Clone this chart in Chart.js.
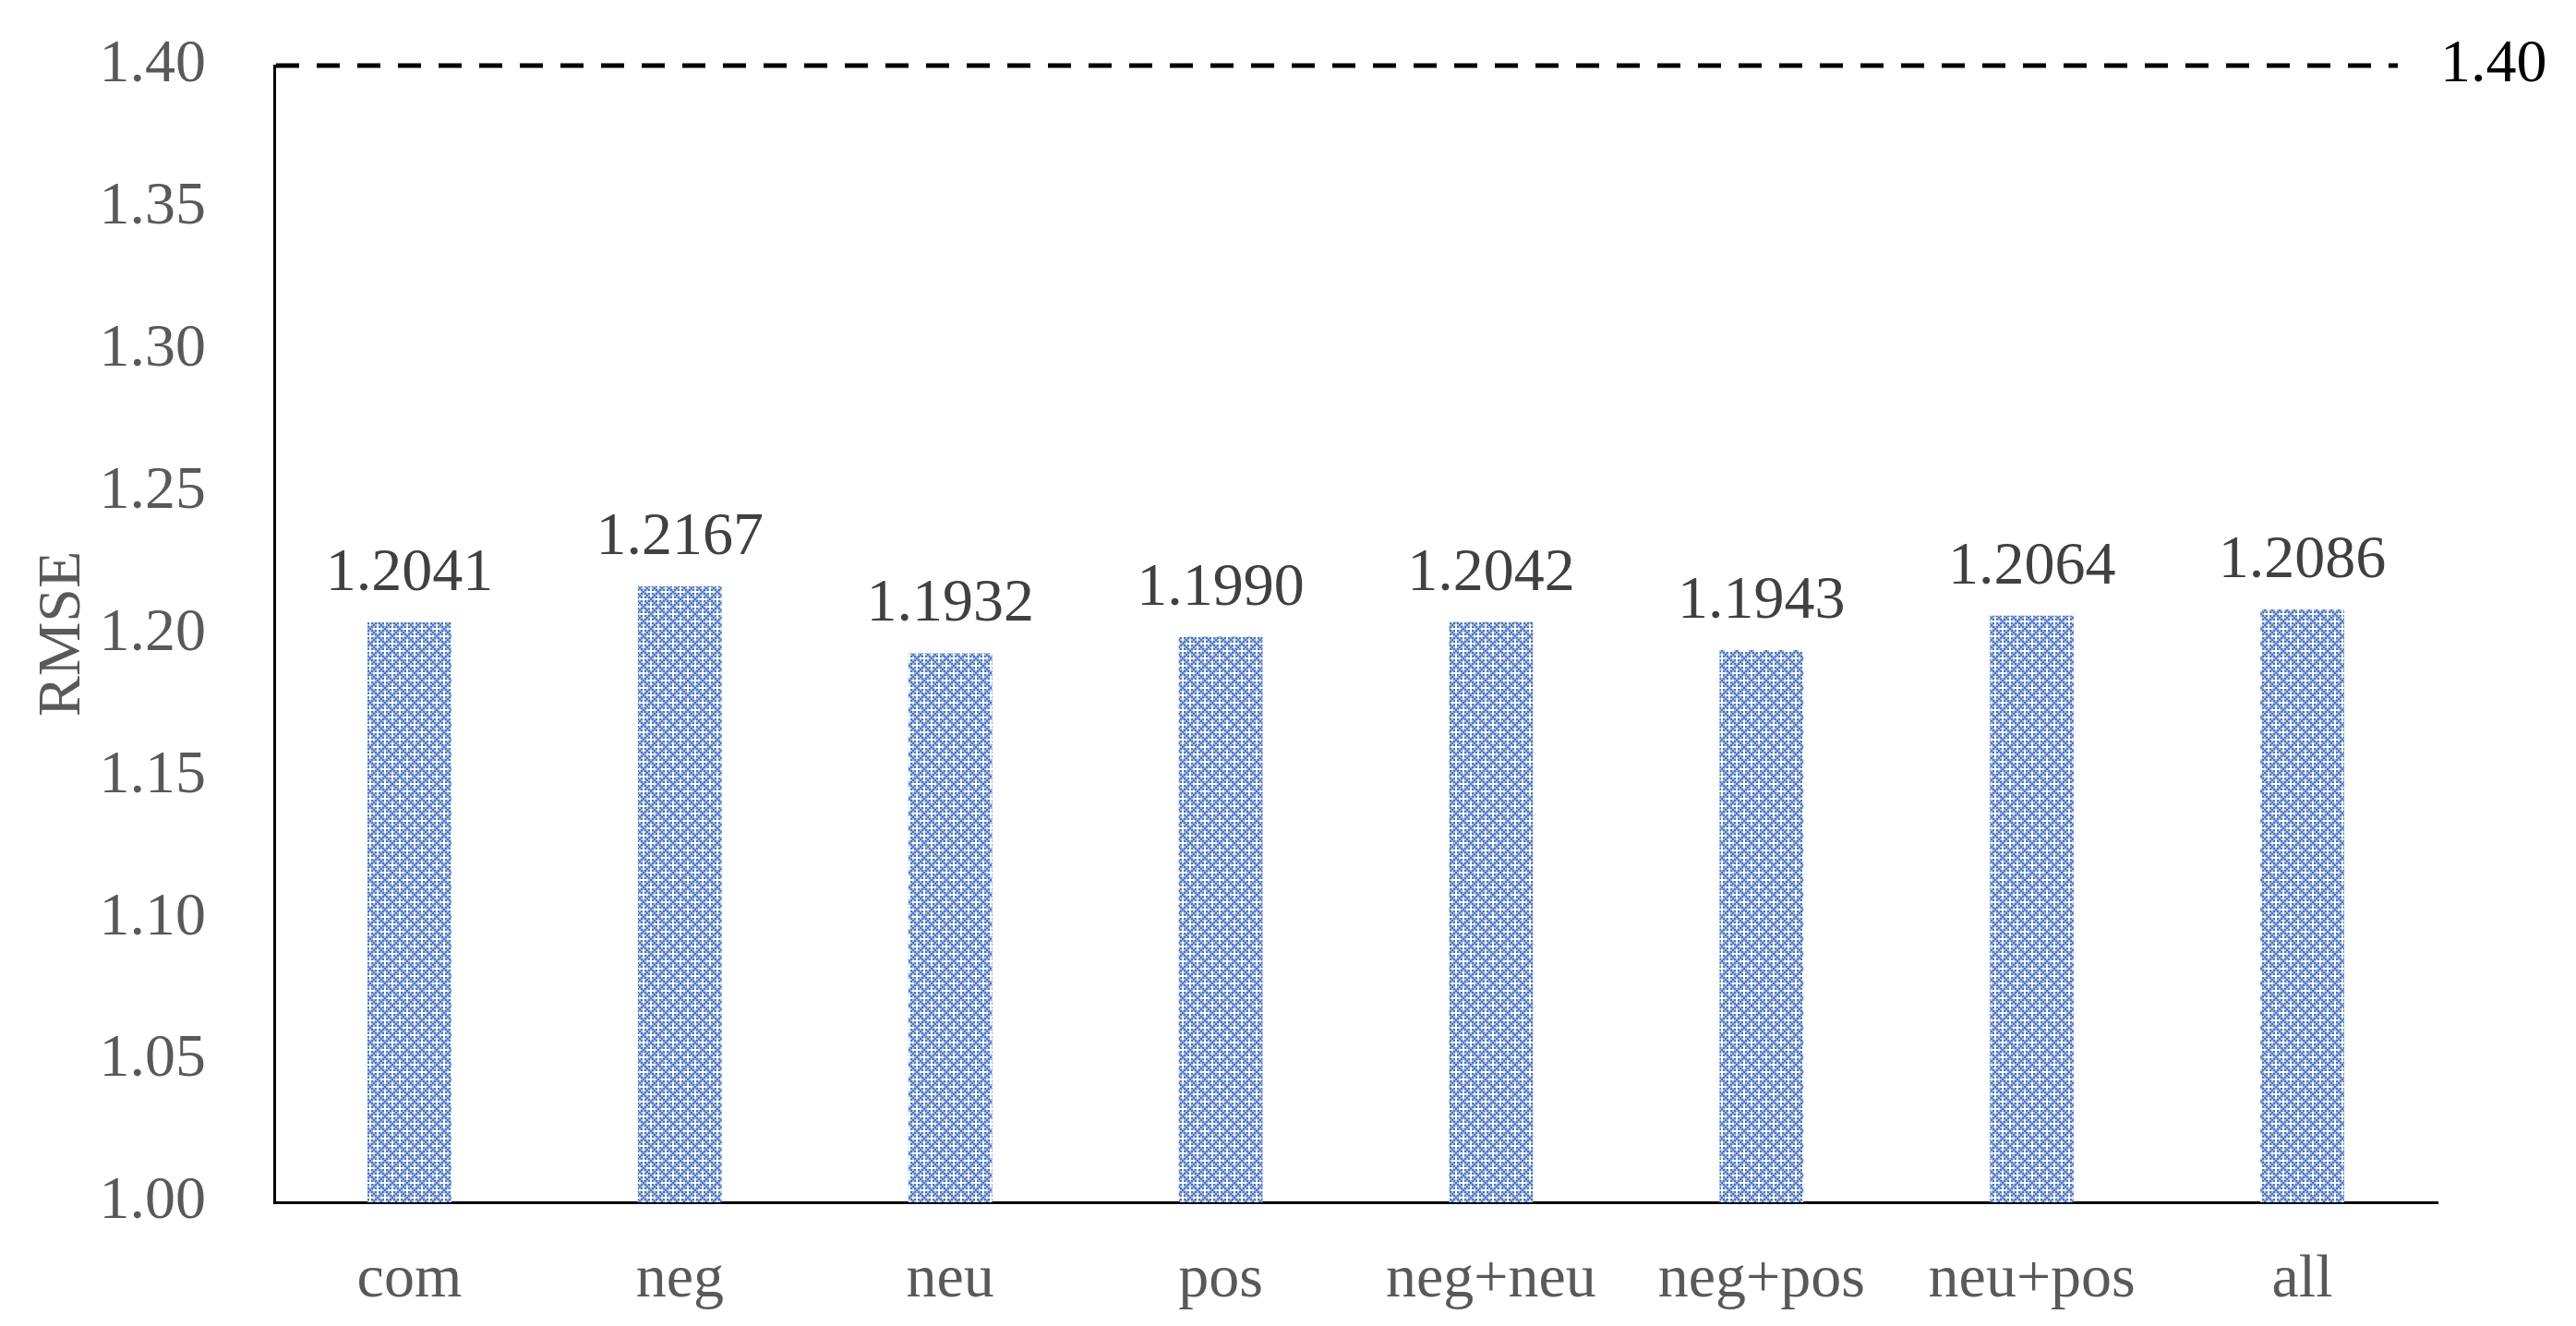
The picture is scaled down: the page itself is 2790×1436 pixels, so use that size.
<!DOCTYPE html>
<html>
<head>
<meta charset="utf-8">
<title>RMSE</title>
<script src="https://cdn.jsdelivr.net/npm/chart.js@4.4.0/dist/chart.umd.min.js"></script>
<style>
  html, body { margin: 0; padding: 0; background: #fff; }
  #wrap { width: 2790px; height: 1436px; position: relative; }
</style>
</head>
<body>
<div id="wrap"><canvas id="rmseChart"></canvas></div>
<script>
// =======================
// Data
// =======================
const categories = ['com', 'neg', 'neu', 'pos', 'neg+neu', 'neg+pos', 'neu+pos', 'all'];
const rmseValues = [1.2041, 1.2167, 1.1932, 1.1990, 1.2042, 1.1943, 1.2064, 1.2086];
const yTicks = [1.00, 1.05, 1.10, 1.15, 1.20, 1.25, 1.30, 1.35, 1.40];
const refValue = 1.40;
const refLabel = '1.40';

const FONT = '"Liberation Serif", "Times New Roman", serif';

// =======================
// Bar fill pattern (blue dotted diamonds)
// =======================
function makePattern() {
  const cell = 2, n = 8;
  const c = document.createElement('canvas');
  c.width = c.height = cell * n;
  const g = c.getContext('2d');
  g.fillStyle = '#fff';
  g.fillRect(0, 0, c.width, c.height);
  for (let y = 0; y < n; y++) {
    for (let x = 0; x < n; x++) {
      const dx0 = Math.min(x, n - x), dy0 = Math.min(y, n - y);
      const dx1 = Math.abs(x - 4), dy1 = Math.abs(y - 4);
      const white = (dx0 === 0 && dy0 <= 2) || (dy0 === 0 && dx0 <= 2) ||
                    (dx1 === 0 && dy1 <= 2) || (dy1 === 0 && dx1 <= 2);
      if (white) continue;
      g.fillStyle = (x + y) % 2 === 0 ? '#4472C4' : '#A9BCE5';
      g.fillRect(x * cell, y * cell, cell, cell);
    }
  }
  return document.getElementById('rmseChart').getContext('2d').createPattern(c, 'repeat');
}

// =======================
// Plugins: value labels + dashed reference line
// =======================
const valueLabels = {
  id: 'valueLabels',
  afterDatasetsDraw(chart) {
    const ctx = chart.ctx;
    const meta = chart.getDatasetMeta(0);
    ctx.save();
    ctx.font = '66px ' + FONT;
    ctx.fillStyle = '#404040';
    ctx.textAlign = 'center';
    ctx.textBaseline = 'alphabetic';
    meta.data.forEach((bar, i) => {
      ctx.fillText(rmseValues[i].toFixed(4), bar.x, bar.y - 35);
    });
    ctx.restore();
  }
};

const refLine = {
  id: 'refLine',
  afterDraw(chart) {
    const { ctx, chartArea, scales } = chart;
    const y = scales.y.getPixelForValue(refValue);
    ctx.save();
    ctx.strokeStyle = '#000';
    ctx.lineWidth = 5;
    ctx.setLineDash([25, 19]);
    ctx.beginPath();
    ctx.moveTo(chartArea.left + 2, y);
    ctx.lineTo(chartArea.right - 43, y);
    ctx.stroke();
    ctx.setLineDash([]);
    ctx.font = '66px ' + FONT;
    ctx.fillStyle = '#000';
    ctx.textAlign = 'left';
    ctx.textBaseline = 'middle';
    ctx.fillText(refLabel, chartArea.right + 3, y);
    ctx.restore();
  }
};

// =======================
// Chart
// =======================
window.onload = () => {
  new Chart(document.getElementById('rmseChart'), {
    type: 'bar',
    data: {
      labels: categories,
      datasets: [{
        label: 'RMSE',
        data: rmseValues,
        backgroundColor: makePattern(),
        borderWidth: 0,
        categoryPercentage: 1,
        barPercentage: 0.31
      }]
    },
    options: {
      responsive: true,
      maintainAspectRatio: false,
      animation: false,
      layout: { padding: { left: 29, right: 150, top: 71, bottom: 0 } },
      plugins: { legend: { display: false }, tooltip: { enabled: false } },
      scales: {
        x: {
          grid: { display: false },
          border: { display: true, color: '#000', width: 3 },
          ticks: {
            color: '#595959',
            font: { family: FONT, size: 66 },
            padding: 37,
            maxRotation: 0,
            autoSkip: false
          },
          afterFit: s => { s.height = 134; }
        },
        y: {
          min: yTicks[0],
          max: yTicks[yTicks.length - 1],
          afterBuildTicks: s => { s.ticks = yTicks.map(v => ({ value: v })); },
          grid: { display: false },
          border: { display: true, color: '#000', width: 3 },
          ticks: {
            color: '#595959',
            font: { family: FONT, size: 66 },
            padding: 66,
            callback: v => Number(v).toFixed(2)
          },
          title: {
            display: true,
            text: 'RMSE',
            color: '#595959',
            font: { family: FONT, size: 66, weight: 'normal' },
            padding: 0
          },
          afterFit: s => {
            s.width = 268;
            s.paddingTop = 0;
            s.paddingBottom = 0;
          }
        }
      }
    },
    plugins: [valueLabels, refLine]
  });
};
</script>
</body>
</html>
